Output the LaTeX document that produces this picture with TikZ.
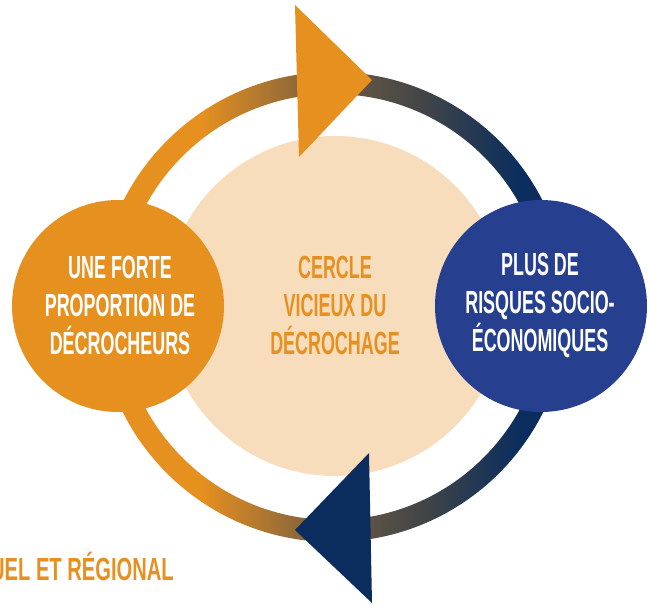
\documentclass[tikz,border=0pt]{standalone}
\usepackage{fontspec}
\newfontfamily\bebas[FakeStretch=0.56]{Liberation Sans}
\newfontfamily\bebaswide[FakeStretch=0.63]{Liberation Sans}
\definecolor{cOrange}{HTML}{E69020}
\definecolor{cNavy}{HTML}{0A2D5E}
\definecolor{cBlue}{HTML}{263F8E}
\definecolor{cPale}{HTML}{F7DDBC}
\definecolor{ringM}{HTML}{6F5A42}
\definecolor{ringG}{HTML}{3F4448}
\pgfdeclarehorizontalshading{ringshade}{100bp}{color(0bp)=(cOrange); color(25bp)=(cOrange); color(36bp)=(cOrange); color(50bp)=(ringM); color(60bp)=(ringG); color(70bp)=(cNavy); color(100bp)=(cNavy)}
\tikzset{
  lbl/.style={font=\bebas\bfseries\fontsize{32}{38}\selectfont, align=center, inner sep=0pt},
  footlbl/.style={font=\bebaswide\bfseries\fontsize{32}{38}\selectfont, inner sep=0pt},
  bubble/.style={circle, minimum size=212pt, inner sep=0pt}
}
\begin{document}
\begin{tikzpicture}[x=1pt,y=-1pt]
\useasboundingbox (0,0) rectangle (649,606);
\clip (0,0) rectangle (649,606);
% ring
\shade[shading=ringshade, even odd rule]
  (333,307) circle[radius=235] (333,307) circle[radius=213];
% centre disc
\node[circle, fill=cPale, minimum size=340pt, inner sep=0pt] (core) at (335,306) {};
% arrow heads
\coordinate (t1) at (295,5);
\coordinate (t2) at (372,80);
\coordinate (t3) at (299,157);
\fill[cOrange] (t1) -- (t2) -- (t3) -- cycle;
\coordinate (b1) at (369,453);
\coordinate (b2) at (295,530);
\coordinate (b3) at (372,603);
\fill[cNavy] (b1) -- (b2) -- (b3) -- cycle;
% side bubbles
\node[bubble, fill=cOrange] (left) at (118,306) {};
\node[bubble, fill=cBlue] (right) at (541,306) {};
% texts
\node[lbl, text=white] (ltxt) at (120,305) {UNE FORTE\\PROPORTION DE\\DÉCROCHEURS};
\node[lbl, text=cOrange] (ctxt) at (335,305) {CERCLE\\VICIEUX DU\\DÉCROCHAGE};
\node[lbl, text=white] (rtxt) at (540,305) {PLUS DE\\RISQUES SOCIO-\\ÉCONOMIQUES};
\node[footlbl, text=cOrange, anchor=base east] (foot) at (174,580) {UEL ET RÉGIONAL};
\end{tikzpicture}
\end{document}
